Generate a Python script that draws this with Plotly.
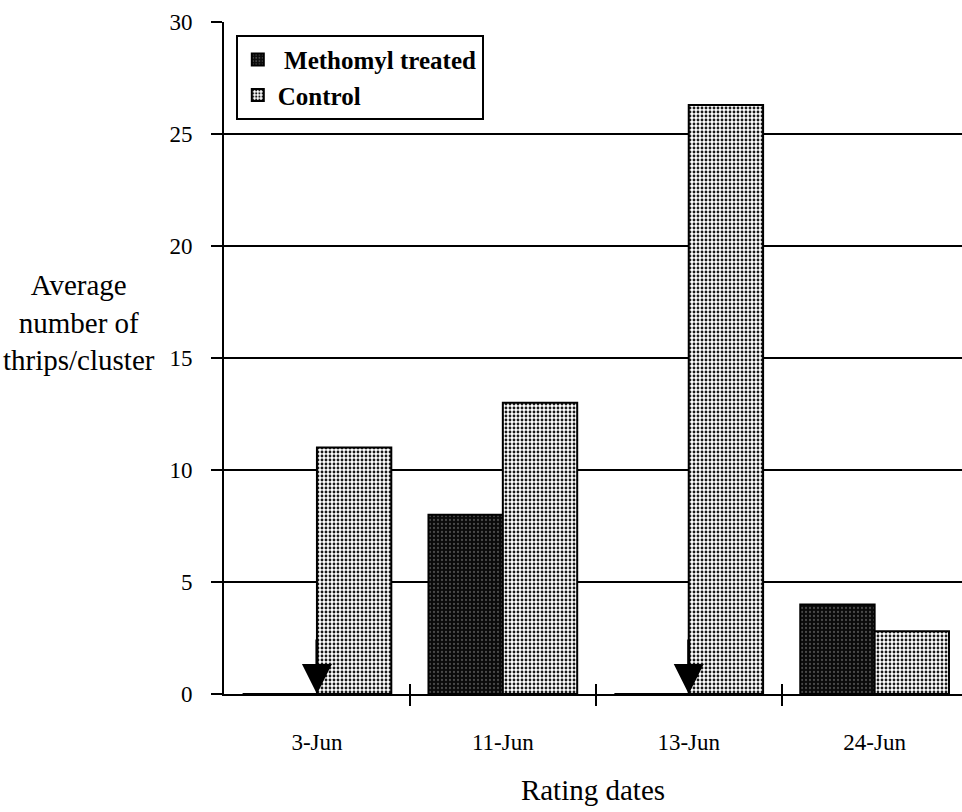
import plotly.graph_objects as go

dates = ["3-Jun", "11-Jun", "13-Jun", "24-Jun"]
methomyl = [0, 8, 0, 4]
control = [11, 13, 26.3, 2.8]
y_ticks = [0, 5, 10, 15, 20, 25, 30]
x_pos = list(range(len(dates)))
boundaries = [i + 0.5 for i in x_pos[:-1]]

FONT = "Liberation Serif"

fig = go.Figure()
fig.add_trace(go.Bar(
    x=x_pos, y=methomyl, name=" Methomyl treated",
    marker=dict(color="#111111", line=dict(color="black", width=2),
                pattern=dict(shape=".", bgcolor="#0a0a0a", fgcolor="#4a4a4a",
                             size=4, solidity=0.25, fillmode="replace")),
))
fig.add_trace(go.Bar(
    x=x_pos, y=control, name="Control",
    marker=dict(color="#aaaaaa", line=dict(color="black", width=2),
                pattern=dict(shape=".", bgcolor="white", fgcolor="#1a1a1a",
                             size=4, solidity=0.4, fillmode="replace")),
))

# arrows marking application dates (where treated count is zero)
for xi, v in zip(x_pos, methomyl):
    if v == 0:
        fig.add_annotation(x=xi, y=0, xref="x", yref="y", ax=0, ay=-56,
                           showarrow=True, arrowhead=2, arrowsize=2.0,
                           arrowwidth=3, arrowcolor="black", text="")

fig.add_annotation(text="Average<br>number of<br>thrips/cluster",
                   xref="paper", yref="paper", x=-0.196, y=0.553,
                   xanchor="center", yanchor="middle", showarrow=False,
                   align="center", font=dict(family=FONT, size=29, color="black"))

fig.update_layout(
    width=962, height=812,
    margin=dict(l=224, r=0, t=22, b=118),
    paper_bgcolor="white", plot_bgcolor="white",
    barmode="group", bargap=0.2, bargroupgap=0,
    font=dict(family=FONT, size=23, color="black"),
    showlegend=True,
    legend=dict(x=0.016, y=0.981, xanchor="left", yanchor="top",
                bgcolor="white", bordercolor="black", borderwidth=2,
                font=dict(family=FONT, size=25, color="black", weight="bold"),
                itemwidth=30, tracegroupgap=0),
    xaxis=dict(range=[-0.5, 3.47], tickmode="array", tickvals=x_pos,
               ticktext=dates, ticks="", showgrid=False, zeroline=False,
               showline=True, linecolor="black", linewidth=2,
               ticklabelstandoff=26, tickfont=dict(family=FONT, size=23),
               title=dict(text="Rating dates", font=dict(family=FONT, size=29), standoff=26)),
    xaxis2=dict(overlaying="x", matches="x", anchor="y", side="bottom",
                tickmode="array", tickvals=boundaries, ticks="outside",
                ticklen=11, tickwidth=2, tickcolor="black",
                showticklabels=False, showgrid=False, zeroline=False,
                showline=False),
    xaxis3=dict(overlaying="x", matches="x", anchor="y", side="bottom",
                tickmode="array", tickvals=boundaries, ticks="inside",
                ticklen=10, tickwidth=2, tickcolor="black",
                showticklabels=False, showgrid=False, zeroline=False,
                showline=False),
    yaxis=dict(range=[0, 30], tickmode="array", tickvals=y_ticks,
               showgrid=True, gridcolor="black", gridwidth=2,
               zeroline=False, showline=True, linecolor="black", linewidth=2,
               ticks="outside", ticklen=11, tickwidth=2, tickcolor="black",
               tickfont=dict(family=FONT, size=23), ticklabelstandoff=14),
)
# invisible traces to activate the overlay tick axes
fig.add_trace(go.Scatter(x=[None], y=[None], xaxis="x2", showlegend=False, hoverinfo="skip"))
fig.add_trace(go.Scatter(x=[None], y=[None], xaxis="x3", showlegend=False, hoverinfo="skip"))

fig.write_html("out.html")
